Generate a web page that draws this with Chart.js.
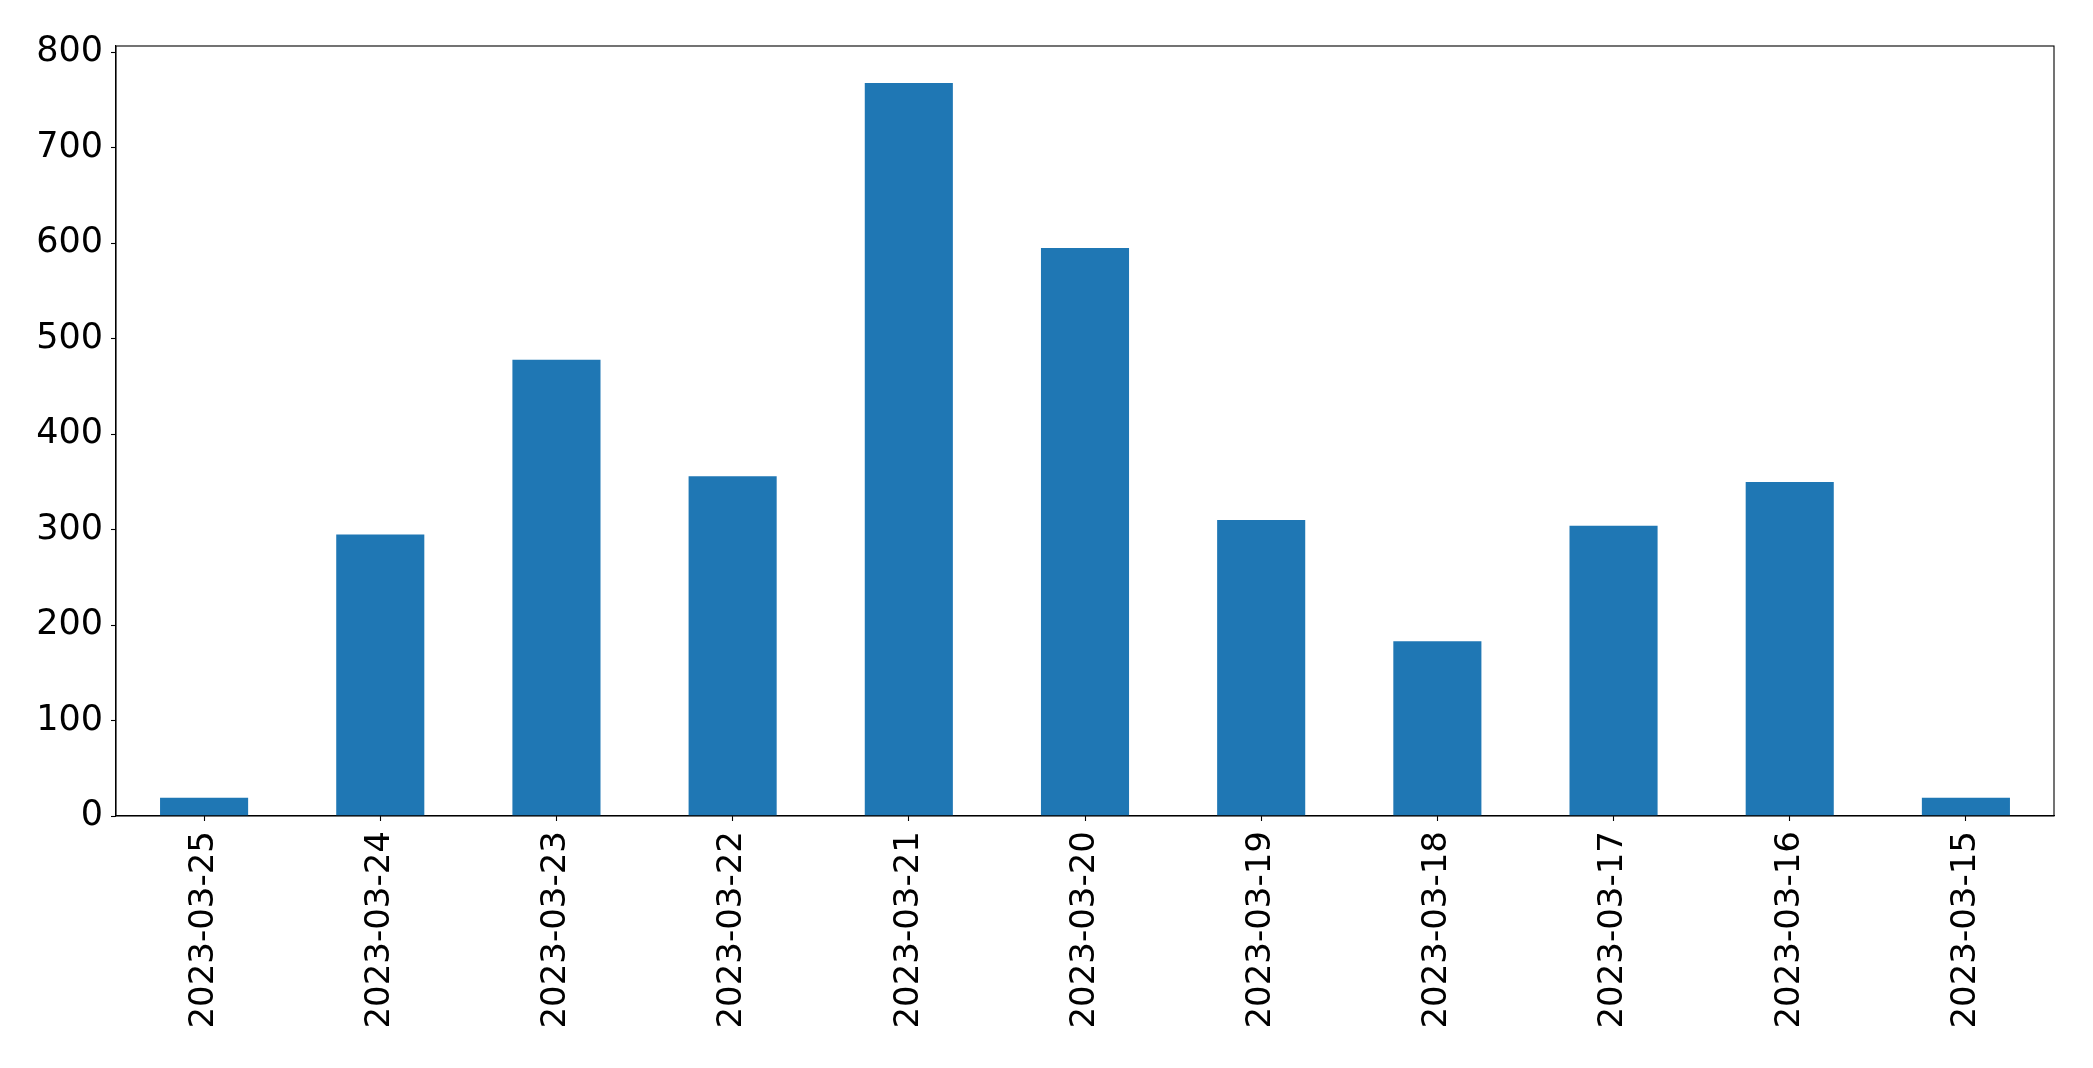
<!DOCTYPE html>
<html>
<head>
<meta charset="utf-8">
<script src="https://cdn.jsdelivr.net/npm/chart.js@4/dist/chart.umd.min.js"></script>
<style>
  body { margin: 0; background: #fff; }
  #wrap { width: 2093px; height: 1068px; }
</style>
</head>
<body>
<div id="wrap"><canvas id="barchart" width="2093" height="1068"></canvas></div>
<script>
const dates = ['2023-03-25', '2023-03-24', '2023-03-23', '2023-03-22', '2023-03-21', '2023-03-20',
               '2023-03-19', '2023-03-18', '2023-03-17', '2023-03-16', '2023-03-15'];
const counts = [19, 295, 478, 356, 768, 595, 310, 183, 304, 350, 19];
const yTicks = [0, 100, 200, 300, 400, 500, 600, 700, 800];

const ctx = document.getElementById('barchart');

// box around the plot area, like matplotlib's spines
const frame = {
    id: 'frame',
    afterDraw(chart) {
        const a = chart.chartArea;
        const c = chart.ctx;
        c.save();
        c.strokeStyle = '#000';
        c.lineWidth = 1.1;
        c.strokeRect(a.left, a.top, a.right - a.left, a.bottom - a.top);
        c.restore();
    }
};

new Chart(ctx, {
    type: 'bar',
    plugins: [frame],
    options: {
        responsive: false,
        animation: false,
        layout: { padding: { top: 46, right: 39, left: 0, bottom: 0 } },
        plugins: {
            legend: { display: false },
            tooltip: { enabled: false }
        },
        scales: {
            x: {
                grid: { offset: false, drawOnChartArea: false, tickLength: 5, tickColor: '#000', tickWidth: 1.1 },
                border: { color: '#000', width: 1.1 },
                ticks: {
                    color: '#000',
                    font: { family: 'DejaVu Sans', size: 34 },
                    minRotation: 90,
                    maxRotation: 90,
                    padding: 10,
                    autoSkip: false
                },
                afterFit(axis) { axis.height = 252; }
            },
            y: {
                min: 0,
                max: 806.7,
                grid: { drawOnChartArea: false, tickLength: 5, tickColor: '#000', tickWidth: 1.1 },
                border: { color: '#000', width: 1.1 },
                afterBuildTicks(axis) { axis.ticks = yTicks.map(v => ({ value: v })); },
                ticks: {
                    color: '#000',
                    font: { family: 'DejaVu Sans', size: 35 },
                    padding: 8,
                    includeBounds: false
                },
                afterFit(axis) { axis.width = 116; }
            }
        }
    },
    data: {
        labels: dates,
        datasets: [{
            label: 'count',
            data: counts,
            backgroundColor: '#1f77b4',
            barPercentage: 0.5,
            categoryPercentage: 1.0
        }]
    }
});
</script>
</body>
</html>
